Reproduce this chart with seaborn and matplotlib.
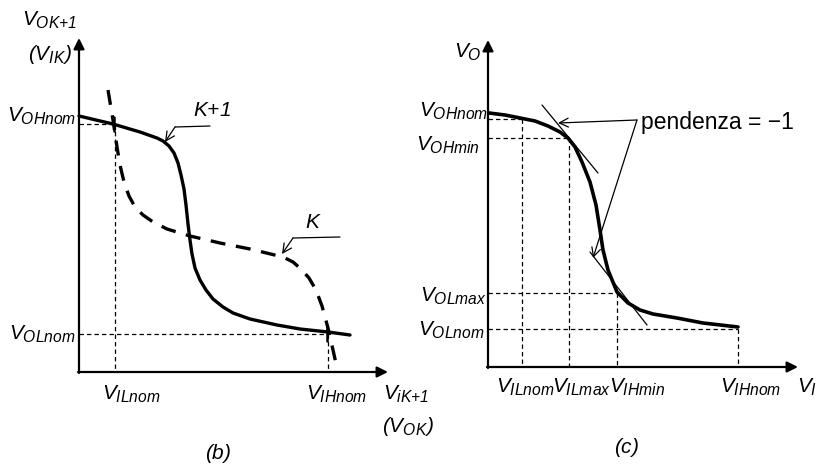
import matplotlib
matplotlib.use("Agg")
import matplotlib.pyplot as plt
import matplotlib._mathtext as _mt
import seaborn as sns

sns.set_theme(style="white")
plt.rcParams["font.family"] = ["Liberation Sans", "DejaVu Sans"]
plt.rcParams["mathtext.fontset"] = "custom"
plt.rcParams["mathtext.it"] = "Liberation Sans:italic"
plt.rcParams["mathtext.rm"] = "Liberation Sans:italic"
plt.rcParams["mathtext.sf"] = "Liberation Sans:italic"
# slightly larger subscripts than the mathtext default
_mt.SHRINK_FACTOR = 0.75

# ---- panel (b): cascaded inverters K and K+1 (arbitrary voltage units) ----
vtc_k1_x = [0, 34, 61, 78, 84, 90, 95, 99, 102, 105, 107, 109, 111, 113, 116, 121, 127, 134, 144,
            154, 171, 198, 221, 249, 271]
vtc_k1_y = [256, 248, 240, 234, 231, 226, 219, 209, 197, 183, 167, 148, 132, 118, 104, 92, 82, 73, 65,
            59, 53, 47, 43, 40, 37]
vtc_k_x = [29, 34, 38, 41, 45, 50, 56, 64, 74, 88, 111, 141, 171, 204, 214, 222, 230, 237, 243, 249, 254, 258]
vtc_k_y = [282, 252, 225, 207, 190, 176, 165, 157, 150, 143, 136, 129, 123, 115, 110, 103, 94, 82, 66, 44, 22, 4]
b_ohnom, b_olnom = 256, 38
b_cross_hi = (36, 248)
b_cross_lo = (249, 38)

# ---- panel (c): transfer characteristic with unity-gain points ----
vtc_x = [1, 17, 32, 47, 60, 72, 80, 87, 94, 102, 108, 112, 115, 120, 129, 140, 152, 165, 189, 215, 250]
vtc_y = [254, 252, 249, 246, 241, 235, 229, 220, 205, 185, 162, 137, 117, 97, 75, 64, 57, 53, 49, 44, 40]
tan_hi_x, tan_hi_y = [54, 110], [262, 194]
tan_lo_x, tan_lo_y = [102, 159], [115, 42]
c_levels_y = [248, 229, 74, 38]          # V_OHnom(crossing), V_OHmin, V_OLmax, V_OLnom
c_levels_x = [34, 81, 129, 250]          # V_ILnom, V_ILmax, V_IHmin, V_IHnom

W, H = 816, 465
fig = plt.figure(figsize=(W / 100, H / 100), dpi=100)
fig.patch.set_facecolor("white")

FS = 15
thin = dict(color="black", lw=0.9)
dash_thin = (0, (3.5, 2.5))


def make_axes(x0, y0, w, h):
    ax = fig.add_axes([x0 / W, (H - y0) / H, w / W, h / H])
    ax.set_xlim(0, w)
    ax.set_ylim(0, h)
    ax.axis("off")
    # axes with arrow heads
    ax.annotate("", xy=(w, 0), xytext=(-1, 0),
                arrowprops=dict(arrowstyle="-|>", lw=1.6, color="black", mutation_scale=16,
                                shrinkA=0, shrinkB=0), annotation_clip=False)
    ax.annotate("", xy=(0, h), xytext=(0, -1),
                arrowprops=dict(arrowstyle="-|>", lw=1.6, color="black", mutation_scale=16,
                                shrinkA=0, shrinkB=0), annotation_clip=False)
    return ax


def txt(ax, x, y, s, ha="center", va="center", size=FS, **kw):
    ax.text(x, y, s, ha=ha, va=va, fontsize=size, color="black", clip_on=False, **kw)


def bent_arrow(ax, pts):
    (x0, y0), (x1, y1), (x2, y2) = pts
    ax.plot([x0, x1], [y0, y1], **thin, clip_on=False)
    ax.annotate("", xy=(x2, y2), xytext=(x1, y1),
                arrowprops=dict(arrowstyle="->", lw=0.9, color="black", mutation_scale=16,
                                shrinkA=0, shrinkB=0), annotation_clip=False)


# ================= panel (b) =================
axb = make_axes(79, 372, 309, 334)

axb.plot([0, b_cross_hi[0]], [b_cross_hi[1]] * 2, color="black", lw=0.9, ls=dash_thin)
axb.plot([b_cross_hi[0]] * 2, [b_cross_hi[1], 0], color="black", lw=0.9, ls=dash_thin)
axb.plot([0, b_cross_lo[0]], [b_cross_lo[1]] * 2, color="black", lw=0.9, ls=dash_thin)
axb.plot([b_cross_lo[0]] * 2, [b_cross_lo[1], 0], color="black", lw=0.9, ls=dash_thin)

sns.lineplot(x=vtc_k1_x, y=vtc_k1_y, sort=False, estimator=None, ax=axb,
             color="black", lw=2.4)
sns.lineplot(x=vtc_k_x, y=vtc_k_y, sort=False, estimator=None, ax=axb,
             color="black", lw=2.4)
axb.lines[-1].set_linestyle((0, (4.5, 3.2)))
# crossing marks where the two characteristics meet
for cx, cy in [b_cross_hi, b_cross_lo]:
    axb.plot([cx - 1, cx - 1], [cy - 7, cy + 7], color="black", lw=1.8)
for ln in axb.lines:
    ln.set_clip_on(False)

txt(axb, -29, 352, r"$V_{OK{+}1}$")
txt(axb, -29, 318, r"$(V_{IK})$")
txt(axb, -3, b_ohnom, r"$V_{OHnom}$", ha="right")
txt(axb, -3, b_olnom, r"$V_{OLnom}$", ha="right")
txt(axb, 52, -22, r"$V_{ILnom}$")
txt(axb, 258, -22, r"$V_{IHnom}$")
txt(axb, 304, -22, r"$V_{iK{+}1}$", ha="left")
txt(axb, 303, -54, r"$(V_{OK})$", ha="left")
txt(axb, 139, -81, r"$(b)$")
txt(axb, 133, 262, r"$K{+}1$")
txt(axb, 234, 150, r"$K$")
bent_arrow(axb, [(131, 246), (96, 245), (86, 230)])
bent_arrow(axb, [(261, 135), (214, 134), (203, 118)])

# ================= panel (c) =================
axc = make_axes(488, 367, 310, 327)

for lx, ly in zip(c_levels_x, c_levels_y):
    axc.plot([0, lx], [ly, ly], color="black", lw=0.9, ls=dash_thin)
    axc.plot([lx, lx], [ly, 0], color="black", lw=0.9, ls=dash_thin)

sns.lineplot(x=tan_hi_x, y=tan_hi_y, sort=False, estimator=None, ax=axc, color="black", lw=0.9)
sns.lineplot(x=tan_lo_x, y=tan_lo_y, sort=False, estimator=None, ax=axc, color="black", lw=0.9)
sns.lineplot(x=vtc_x, y=vtc_y, sort=False, estimator=None, ax=axc, color="black", lw=2.6)
for ln in axc.lines:
    ln.set_clip_on(False)

txt(axc, -6, 315, r"$V_O$", ha="right")
txt(axc, 0, 256, r"$V_{OHnom}$", ha="right")
txt(axc, -8, 222, r"$V_{OHmin}$", ha="right")
txt(axc, -1, 71, r"$V_{OLmax}$", ha="right")
txt(axc, -3, 37, r"$V_{OLnom}$", ha="right")
txt(axc, 37, -20, r"$V_{ILnom}$")
txt(axc, 93, -20, r"$V_{ILmax}$")
txt(axc, 149, -20, r"$V_{IHmin}$")
txt(axc, 263, -20, r"$V_{IHnom}$")
txt(axc, 309, -20, r"$V_I$", ha="left")
txt(axc, 139, -80, r"$(c)$")
axc.text(153, 244, "pendenza = \u22121", ha="left", va="center", fontsize=16.5,
         color="black", clip_on=False, family=["Liberation Sans", "DejaVu Sans"])

for tip in [(70, 244), (105, 109)]:
    axc.annotate("", xy=tip, xytext=(149, 247),
                 arrowprops=dict(arrowstyle="->", lw=0.9, color="black", mutation_scale=16,
                                 shrinkA=0, shrinkB=0), annotation_clip=False)

fig.savefig("out.png", dpi=100, facecolor="white")
